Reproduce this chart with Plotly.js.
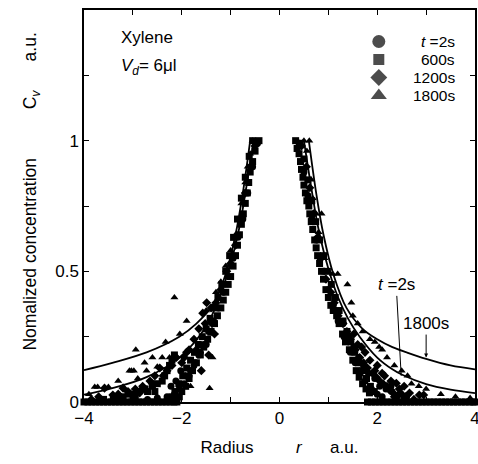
<!DOCTYPE html>
<html>
<head>
<meta charset="utf-8">
<script src="https://cdn.plot.ly/plotly-3.0.1.min.js"></script>
<style>html,body{margin:0;padding:0;background:#fff;}#chart{width:478px;height:464px;}</style>
</head>
<body>
<div id="chart"></div>
<script>
// ---- series: t = 2s (circles) ----
const circX = [0.4,0.5,0.58,0.66,0.74,0.83,0.9,1.0,1.1,1.2,1.32,1.45,1.55,1.65,1.75,1.88,2.0,2.1,2.3,2.4,2.55,
  1.3,1.42,1.52,1.62,1.72,1.82,1.95,2.05,2.18,2.28,2.45,2.6,
  -0.45,-0.55,-0.65,-0.75,-0.85,-0.95,-1.05,-1.15,-1.25,-1.35,-1.45,-1.55,-1.65,-1.75,-1.85,-1.95,-2.05,-2.15,-2.3,-2.5,-2.7,-3.0,-3.3,
  -1.5,-1.62,-1.72,-1.82,-1.92,-2.02,-2.12,-2.22];
const circY = [0.99,0.88,0.79,0.7,0.62,0.55,0.5,0.43,0.37,0.31,0.25,0.19,0.15,0.11,0.08,0.05,0.03,0.02,0.04,0.02,0.01,
  0.3,0.25,0.21,0.17,0.14,0.11,0.09,0.06,0.05,0.06,0.03,0.02,
  0.99,0.9,0.8,0.7,0.63,0.55,0.48,0.42,0.36,0.31,0.27,0.22,0.18,0.14,0.1,0.07,0.05,0.03,0.02,0.015,0.01,0.01,0.005,
  0.22,0.19,0.15,0.12,0.1,0.12,0.08,0.06];

// ---- series: 600s (squares) ----
const sqX = [0.33,0.36,0.4,0.43,0.45,0.48,0.5,0.53,0.56,0.6,0.62,0.65,0.68,0.72,0.75,0.78,0.82,0.86,0.9,0.95,1.0,1.05,1.1,1.17,1.22,1.29,1.35,1.43,1.5,1.57,1.63,1.7,1.77,1.84,
  0.42,0.5,0.58,0.66,0.74,0.82,0.9,0.98,1.06,1.14,1.22,1.3,1.38,1.46,1.54,1.62,1.7,1.78,1.86,1.94,
  1.8,1.88,1.96,2.04,2.12,2.2,2.28,2.36,2.44,2.52,2.6,2.68,2.76,2.84,2.92,3.0,3.08,3.16,3.24,3.32,3.4,3.48,3.56,3.64,3.72,3.8,3.88,3.96,4.0,
  -0.42,-0.5,-0.55,-0.6,-0.63,-0.66,-0.7,-0.74,-0.78,-0.82,-0.86,-0.9,-0.95,-1.0,-1.05,-1.1,-1.15,-1.2,-1.27,-1.33,-1.4,-1.47,-1.55,-1.62,-1.7,-1.78,-1.85,-1.92,-2.0,-2.05,-2.1,
  -0.55,-0.62,-0.7,-0.78,-0.86,-0.94,-1.02,-1.1,-1.18,-1.26,-1.34,-1.42,-1.5,-1.58,-1.66,-1.74,-1.82,-1.9,-1.98,-2.06,-2.14,-2.2,
  -3.6,-3.4,-3.2,-3.0,-2.9,-2.8,-2.7,-2.6,-2.5,-2.4,-2.35,-2.3,-2.25,-2.2,-2.15,-3.3,-3.1,-2.95,-2.75,-2.55,
  -4.0,-3.92,-3.84,-3.76,-3.68,-3.6,-3.52,-3.44,-3.36,-3.28,-3.2,-3.12,-3.04,-2.96,-2.88,-2.8,-2.72,-2.64,-2.56,-2.48,-2.4,-2.32,-2.24,-2.16,-2.1];
const sqY = [1.0,0.97,0.95,0.92,0.89,0.86,0.83,0.8,0.77,0.75,0.72,0.69,0.66,0.62,0.59,0.56,0.53,0.5,0.47,0.43,0.4,0.37,0.35,0.33,0.3,0.26,0.23,0.2,0.16,0.12,0.095,0.07,0.05,0.035,
  0.99,0.93,0.85,0.77,0.69,0.62,0.56,0.5,0.45,0.4,0.35,0.31,0.27,0.23,0.19,0.15,0.12,0.09,0.06,0.04,
  0,0,0,0,0,0,0,0,0,0,0,0,0,0,0,0,0,0,0,0,0,0,0,0,0,0,0,0,0,
  1.0,0.96,0.92,0.88,0.84,0.8,0.76,0.72,0.68,0.64,0.6,0.56,0.52,0.48,0.45,0.42,0.39,0.36,0.33,0.3,0.27,0.24,0.21,0.18,0.15,0.12,0.09,0.06,0.04,0.02,0.01,
  1.0,0.94,0.86,0.78,0.7,0.63,0.56,0.5,0.45,0.4,0.36,0.32,0.28,0.25,0.22,0.19,0.16,0.13,0.1,0.07,0.04,0.02,
  0.01,0.02,0.02,0.03,0.04,0.05,0.04,0.06,0.07,0.08,0.1,0.12,0.14,0.16,0.18,0.02,0.03,0.02,0.05,0.04,
  0,0,0,0,0,0,0,0,0,0,0,0,0,0,0,0,0,0,0,0,0,0,0,0,0];

// ---- series: 1200s (diamonds) ----
const diaX = [0.45,0.55,0.62,0.7,0.78,0.85,0.95,1.05,1.12,1.2,1.3,1.38,1.45,1.55,1.64,1.72,1.8,1.9,1.98,2.05,2.12,2.2,2.25,2.32,2.39,2.45,2.5,2.58,2.66,2.75,2.86,2.95,1.6,1.75,1.85,2.0,2.15,
  1.52,1.68,1.95,2.1,2.28,2.35,2.55,
  -0.5,-0.6,-0.7,-0.8,-0.9,-1.0,-1.08,-1.2,-1.3,-1.4,-1.49,-1.57,-1.33,-1.65,-1.75,-1.85,-1.95,-2.11,-2.2,-2.3,-2.45,-2.55,-2.65,-2.8,-2.95,-3.1,-3.2,-3.3,-3.41,-3.58,-3.7,-3.85,-2.86,-1.45,-1.6,
  -1.38,-1.52,-1.7,-1.9,-2.0,-2.38,-2.6];
const diaY = [0.98,0.9,0.82,0.72,0.63,0.55,0.47,0.42,0.38,0.33,0.3,0.27,0.24,0.2,0.17,0.15,0.13,0.11,0.095,0.08,0.07,0.06,0.046,0.035,0.072,0.05,0.03,0.02,0.034,0.01,0.027,0.027,0.22,0.19,0.16,0.14,0.1,
  0.26,0.21,0.12,0.11,0.08,0.02,0.06,
  0.98,0.9,0.8,0.7,0.6,0.53,0.5,0.43,0.38,0.36,0.38,0.34,0.26,0.28,0.24,0.2,0.17,0.17,0.14,0.12,0.13,0.1,0.08,0.06,0.05,0.04,0.053,0.03,0.027,0.053,0.02,0.01,0.035,0.18,0.12,
  0.3,0.3,0.2,0.19,0.15,0.1,0.07];

// ---- series: 1800s (triangles) ----
const triX = [0.5,0.56,0.61,0.65,0.68,0.75,0.8,0.86,0.92,1.0,1.09,1.19,1.39,1.47,1.5,1.6,1.7,1.85,1.95,2.04,2.1,2.2,2.35,2.5,2.62,2.7,2.85,3.0,3.3,3.6,3.9,
  -0.55,-0.6,-0.65,-0.7,-0.78,-0.85,-0.9,-1.0,-1.1,-1.2,-1.3,-1.37,-1.4,-1.43,-1.5,-1.82,-1.9,-2.04,-2.15,-2.25,-2.33,-2.4,-2.5,-2.6,-2.72,-2.76,-2.9,-2.94,-2.98,-3.03,-3.07,-3.2,-3.3,-3.5,-3.72,-3.78,-3.9];
const triY = [1.0,0.96,1.0,0.85,0.78,0.72,0.65,0.72,0.55,0.5,0.49,0.49,0.45,0.38,0.33,0.3,0.27,0.24,0.23,0.21,0.2,0.17,0.14,0.12,0.1,0.07,0.06,0.05,0.03,0.02,0.015,
  1.0,0.95,0.9,0.84,0.76,0.7,0.64,0.58,0.52,0.46,0.42,0.17,0.26,0.053,0.35,0.06,0.31,0.26,0.4,0.17,0.23,0.17,0.135,0.17,0.12,0.15,0.09,0.2,0.12,0.12,0.12,0.057,0.08,0.057,0.057,0.057,0.03];

// ---- model curves ----
const c2sRX = [0.5,0.65,0.8,1.0,1.2,1.4,1.64,2.0,2.31,2.5,3.0,3.5,4.0];
const c2sRY = [1.0,0.82,0.66,0.51,0.4,0.32,0.25,0.17,0.125,0.105,0.068,0.047,0.034];
const c2sLX = [-0.53,-0.68,-0.83,-1.03,-1.23,-1.5,-2.05,-2.72,-3.42,-4.0];
const c2sLY = [1.0,0.82,0.66,0.51,0.4,0.29,0.17,0.095,0.053,0.028];
const c18RX = [0.6,0.75,0.9,1.1,1.37,1.7,2.0,2.31,2.6,3.0,3.5,4.0];
const c18RY = [1.0,0.8,0.64,0.49,0.36,0.28,0.24,0.21,0.19,0.165,0.14,0.125];
const c18LX = [-0.6,-0.75,-0.9,-1.1,-1.37,-1.7,-2.05,-2.72,-3.42,-4.0];
const c18LY = [1.0,0.8,0.64,0.49,0.37,0.3,0.25,0.19,0.15,0.122];

// ---- legend (drawn inside the frame, like the original) ----
const legendNames = ['<i>t</i> =2s','600s','1200s','1800s'];
const legendSymbols = ['circle','square','diamond','triangle-up'];
const legendSymbolSizes = [13, 11, 13, 14];
const legendRows = [0.9196, 0.8737, 0.8278, 0.7819];   // paper fractions of the plot area
const legendSymbolX = 0.754;
const legendTextRight = 0.952;

const xTicks = [-4,-2,0,2,4];
const yTicks = [0,0.5,1];
const yTickText = ['0','0.5','1'];

const FONT = 'Liberation Sans, Arial, sans-serif';
const mk = (sym, size) => ({symbol: sym, size: size, color: '#000', line: {width: 0}});
const traces = [
  {x: circX, y: circY, mode: 'markers', marker: mk('circle', 7), cliponaxis: false},
  {x: sqX, y: sqY, mode: 'markers', marker: mk('square', 7), cliponaxis: false},
  {x: diaX, y: diaY, mode: 'markers', marker: mk('diamond', 7), cliponaxis: false},
  {x: triX, y: triY, mode: 'markers', marker: mk('triangle-up', 7), cliponaxis: false},
  {x: c2sRX, y: c2sRY, mode: 'lines', line: {color: '#000', width: 1.8, shape: 'spline'}},
  {x: c2sLX, y: c2sLY, mode: 'lines', line: {color: '#000', width: 1.8, shape: 'spline'}},
  {x: c18RX, y: c18RY, mode: 'lines', line: {color: '#000', width: 1.8, shape: 'spline'}},
  {x: c18LX, y: c18LY, mode: 'lines', line: {color: '#000', width: 1.8, shape: 'spline'}},
  // legend key symbols on an overlay axis pair spanning the plot area (0..1)
  {x: legendRows.map(() => legendSymbolX), y: legendRows, xaxis: 'x2', yaxis: 'y2', mode: 'markers',
   marker: {symbol: legendSymbols, size: legendSymbolSizes, color: '#000', line: {width: 0}}, hoverinfo: 'skip'}
];

const anns = [];
legendNames.forEach((s, i) => {
  anns.push({xref: 'paper', yref: 'paper', x: legendTextRight, y: legendRows[i], text: s, showarrow: false, borderpad: 0,
    xanchor: 'right', yanchor: 'middle', font: {family: FONT, size: 15.5, color: '#000'}});
});
anns.push({xref: 'paper', yref: 'paper', x: 0.09, y: 0.93, text: 'Xylene', showarrow: false,
  xanchor: 'left', yanchor: 'middle', font: {family: FONT, size: 17, color: '#000'}});
anns.push({xref: 'paper', yref: 'paper', x: 0.09, y: 0.855, text: '<i>V<sub>d</sub></i>= 6\u03bcl', showarrow: false,
  xanchor: 'left', yanchor: 'middle', font: {family: FONT, size: 17, color: '#000'}});
anns.push({x: 2.49, y: 0.10, xref: 'x', yref: 'y', text: '<i>t</i> =2s', showarrow: true, arrowhead: 0,
  arrowwidth: 1, arrowcolor: '#000', ax: -5, ay: -91, font: {family: FONT, size: 17, color: '#000'}});
anns.push({x: 3.0, y: 0.17, xref: 'x', yref: 'y', text: '1800s', showarrow: true, arrowhead: 2, arrowsize: 0.8,
  arrowwidth: 1, arrowcolor: '#000', ax: 0, ay: -34, font: {family: FONT, size: 17, color: '#000'}});

const NB = '\u00a0';
const layout = {
  width: 478, height: 464,
  margin: {l: 84, r: 3, t: 10, b: 62},
  paper_bgcolor: '#fff', plot_bgcolor: '#fff',
  showlegend: false,
  font: {family: FONT, size: 17, color: '#000'},
  xaxis: {
    range: [-4, 4], tickvals: xTicks, ticks: 'inside', ticklen: 5, tickwidth: 1, tickcolor: '#000',
    showline: true, linecolor: '#000', linewidth: 1.6, mirror: 'ticks', showgrid: false, zeroline: false,
    ticklabeloverflow: 'allow',
    minor: {dtick: 1, ticks: 'inside', ticklen: 5, tickcolor: '#000', showgrid: false},
    tickfont: {family: FONT, size: 17},
    title: {text: 'Radius' + NB.repeat(9) + '<i>r</i>' + NB.repeat(6) + 'a.u.', font: {family: FONT, size: 17}, standoff: 14}
  },
  yaxis: {
    range: [0, 1.5], tickvals: yTicks, ticktext: yTickText, ticks: 'inside', ticklen: 5, tickwidth: 1, tickcolor: '#000',
    showline: true, linecolor: '#000', linewidth: 1.6, mirror: 'ticks', showgrid: false, zeroline: false,
    minor: {dtick: 0.25, ticks: 'inside', ticklen: 5, tickcolor: '#000', showgrid: false},
    tickfont: {family: FONT, size: 17},
    title: {text: '\u200b' + NB.repeat(6) + 'Nomalized concentration' + NB.repeat(10) + 'C<sub><i>v</i></sub>' + NB.repeat(6) + 'a.u.', font: {family: FONT, size: 17.5}, standoff: 14}
  },
  xaxis2: {overlaying: 'x', range: [0, 1], visible: false, fixedrange: true},
  yaxis2: {overlaying: 'y', range: [0, 1], visible: false, fixedrange: true},
  annotations: anns
};
Plotly.newPlot('chart', traces, layout, {displayModeBar: false, staticPlot: true});
</script>
</body>
</html>
